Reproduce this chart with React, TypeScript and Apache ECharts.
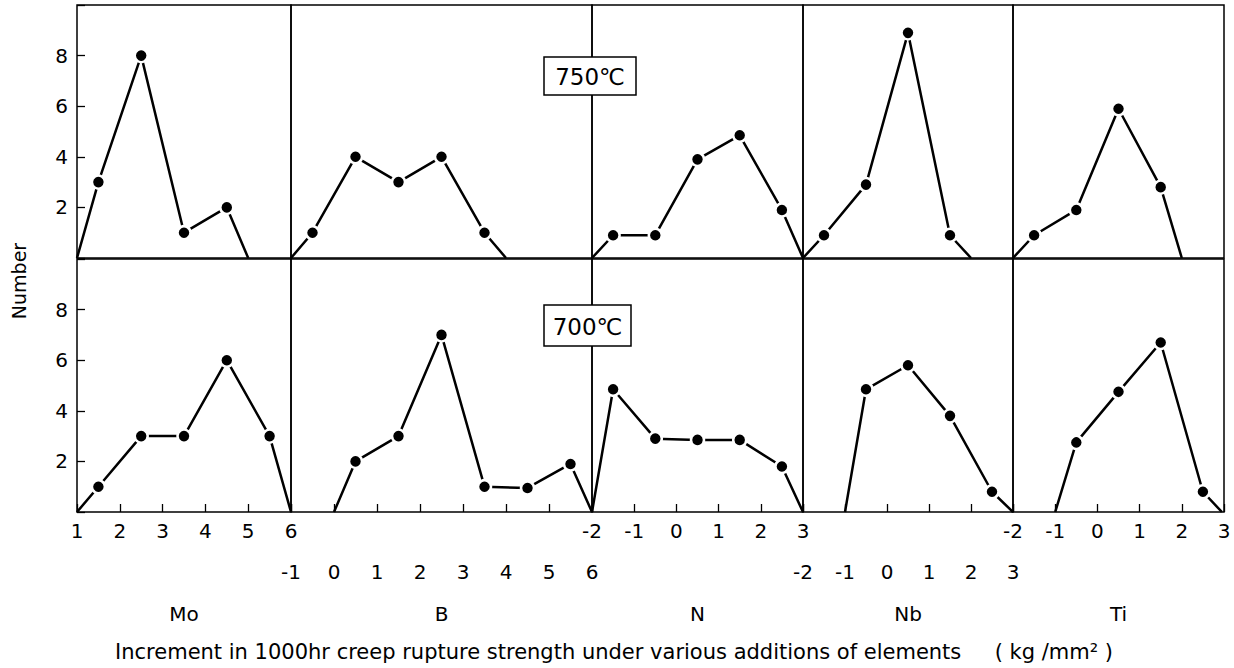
import React, { useEffect, useRef } from "react";
import * as echarts from "echarts";

// ---- data ----
const elements = ["Mo", "B", "N", "Nb", "Ti"];
const axisMin = [1, -1, -2, -2, -2];
const axisMax = [6, 6, 3, 3, 3];
const yTicks = [2, 4, 6, 8];

// 750°C (top row)
const mo750X = [1, 1.5, 2.5, 3.5, 4.5, 5];
const mo750Y = [0, 3, 8, 1, 2, 0];
const b750X = [-1, -0.5, 0.5, 1.5, 2.5, 3.5, 4];
const b750Y = [0, 1, 4, 3, 4, 1, 0];
const n750X = [-2, -1.5, -0.5, 0.5, 1.5, 2.5, 3];
const n750Y = [0, 0.9, 0.9, 3.9, 4.85, 1.9, 0];
const nb750X = [-2, -1.5, -0.5, 0.5, 1.5, 2];
const nb750Y = [0, 0.9, 2.9, 8.9, 0.9, 0];
const ti750X = [-2, -1.5, -0.5, 0.5, 1.5, 2];
const ti750Y = [0, 0.9, 1.9, 5.9, 2.8, 0];

// 700°C (bottom row)
const mo700X = [1, 1.5, 2.5, 3.5, 4.5, 5.5, 6];
const mo700Y = [0, 1, 3, 3, 6, 3, 0];
const b700X = [0, 0.5, 1.5, 2.5, 3.5, 4.5, 5.5, 6];
const b700Y = [0, 2, 3, 7, 1, 0.95, 1.9, 0];
const n700X = [-2, -1.5, -0.5, 0.5, 1.5, 2.5, 3];
const n700Y = [0, 4.85, 2.9, 2.85, 2.85, 1.8, 0];
const nb700X = [-1, -0.5, 0.5, 1.5, 2.5, 3];
const nb700Y = [0, 4.85, 5.8, 3.8, 0.8, 0];
const ti700X = [-1, -0.5, 0.5, 1.5, 2.5, 2.95];
const ti700Y = [0, 2.75, 4.75, 6.7, 0.8, 0];

const temps = ["750℃", "700℃"];
const yTitle = "Number";
const xTitle =
  "Increment in 1000hr creep rupture strength under various additions of elements\u00a0\u00a0\u00a0\u00a0\u00a0( kg /mm² )";

const rowsX = [
  [mo750X, b750X, n750X, nb750X, ti750X],
  [mo700X, b700X, n700X, nb700X, ti700X],
];
const rowsY = [
  [mo750Y, b750Y, n750Y, nb750Y, ti750Y],
  [mo700Y, b700Y, n700Y, nb700Y, ti700Y],
];

const FONT = "DejaVu Sans, Noto Sans CJK JP, sans-serif";

export default function App() {
  const ref = useRef<HTMLDivElement>(null);

  useEffect(() => {
    if (!ref.current) return;
    const chart = echarts.init(ref.current, undefined, { renderer: "svg" });

    const colEdges = [77, 291, 592, 803, 1013, 1224];
    const rowTops = [5, 259];
    const rowH = 253;

    const grid: any[] = [];
    const xAxis: any[] = [];
    const yAxis: any[] = [];
    const series: any[] = [];

    for (let r = 0; r < 2; r++) {
      for (let c = 0; c < 5; c++) {
        const idx = r * 5 + c;
        grid.push({
          left: colEdges[c],
          top: rowTops[r],
          width: colEdges[c + 1] - colEdges[c],
          height: rowH,
          show: true,
          borderColor: "#000",
          borderWidth: 1.5,
          backgroundColor: "transparent",
        });
        const bottom = r === 1;
        xAxis.push({
          type: "value",
          gridIndex: idx,
          min: axisMin[c],
          max: axisMax[c],
          interval: 1,
          axisLine: { show: false },
          splitLine: { show: false },
          axisTick: {
            show: bottom,
            inside: true,
            length: 8,
            lineStyle: { color: "#000", width: 1.3 },
          },
          axisLabel: {
            show: bottom,
            margin: c % 2 === 0 ? 9 : 50,
            color: "#000",
            fontSize: 20,
            fontFamily: FONT,
            showMinLabel: true,
            showMaxLabel: true,
          },
          name: bottom ? elements[c] : "",
          nameLocation: "middle",
          nameGap: 92,
          nameTextStyle: { color: "#000", fontSize: 20, fontFamily: FONT },
        });
        yAxis.push({
          type: "value",
          gridIndex: idx,
          min: 0,
          max: 10,
          interval: 2,
          show: c === 0,
          axisLine: { show: false },
          splitLine: { show: false },
          axisTick: {
            show: true,
            inside: true,
            length: 8,
            lineStyle: { color: "#000", width: 1.3 },
          },
          axisLabel: {
            margin: 9,
            color: "#000",
            fontSize: 20,
            fontFamily: FONT,
            formatter: (v: number) => (yTicks.indexOf(v) >= 0 ? String(v) : ""),
          },
        });
        const xs = rowsX[r][c];
        const ys = rowsY[r][c];
        const data = xs.map((x, i) => {
          const end = i === 0 || i === xs.length - 1;
          return end ? { value: [x, ys[i]], symbol: "none" } : { value: [x, ys[i]] };
        });
        series.push({
          type: "line",
          xAxisIndex: idx,
          yAxisIndex: idx,
          data,
          symbol: "circle",
          symbolSize: 13,
          showAllSymbol: true,
          clip: false,
          lineStyle: { color: "#000", width: 2.5 },
          itemStyle: { color: "#000", borderColor: "#fff", borderWidth: 2.5 },
          z: 3,
        });
      }
    }

    const boxes = [
      { x: 544, y: 57, w: 92, h: 38 },
      { x: 544, y: 305, w: 87, h: 41 },
    ];

    const graphic: any[] = boxes.map((b, i) => ({
      type: "group",
      z: 100,
      children: [
        {
          type: "rect",
          shape: { x: b.x, y: b.y, width: b.w, height: b.h },
          style: { fill: "#fff", stroke: "#000", lineWidth: 1.5 },
          z: 100,
        },
        {
          type: "text",
          x: b.x + b.w / 2,
          y: b.y + b.h / 2 + 1,
          style: {
            text: temps[i],
            fontSize: 23,
            fontFamily: FONT,
            fill: "#000",
            textAlign: "center",
            textVerticalAlign: "middle",
          },
          z: 101,
        },
      ],
    }));

    graphic.push({
      type: "text",
      x: 19,
      y: 281,
      rotation: Math.PI / 2,
      style: {
        text: yTitle,
        fontSize: 19,
        fontFamily: FONT,
        fill: "#000",
        textAlign: "center",
        textVerticalAlign: "middle",
      },
    });
    graphic.push({
      type: "text",
      x: 614,
      y: 652,
      style: {
        text: xTitle,
        fontSize: 21,
        fontFamily: FONT,
        fill: "#000",
        textAlign: "center",
        textVerticalAlign: "middle",
      },
    });

    chart.setOption({
      animation: false,
      backgroundColor: "#fff",
      grid,
      xAxis,
      yAxis,
      series,
      graphic,
    });

    return () => chart.dispose();
  }, []);

  return (
    <div
      ref={ref}
      style={{ position: "fixed", left: 0, top: 0, width: 1234, height: 668, background: "#fff" }}
    />
  );
}
